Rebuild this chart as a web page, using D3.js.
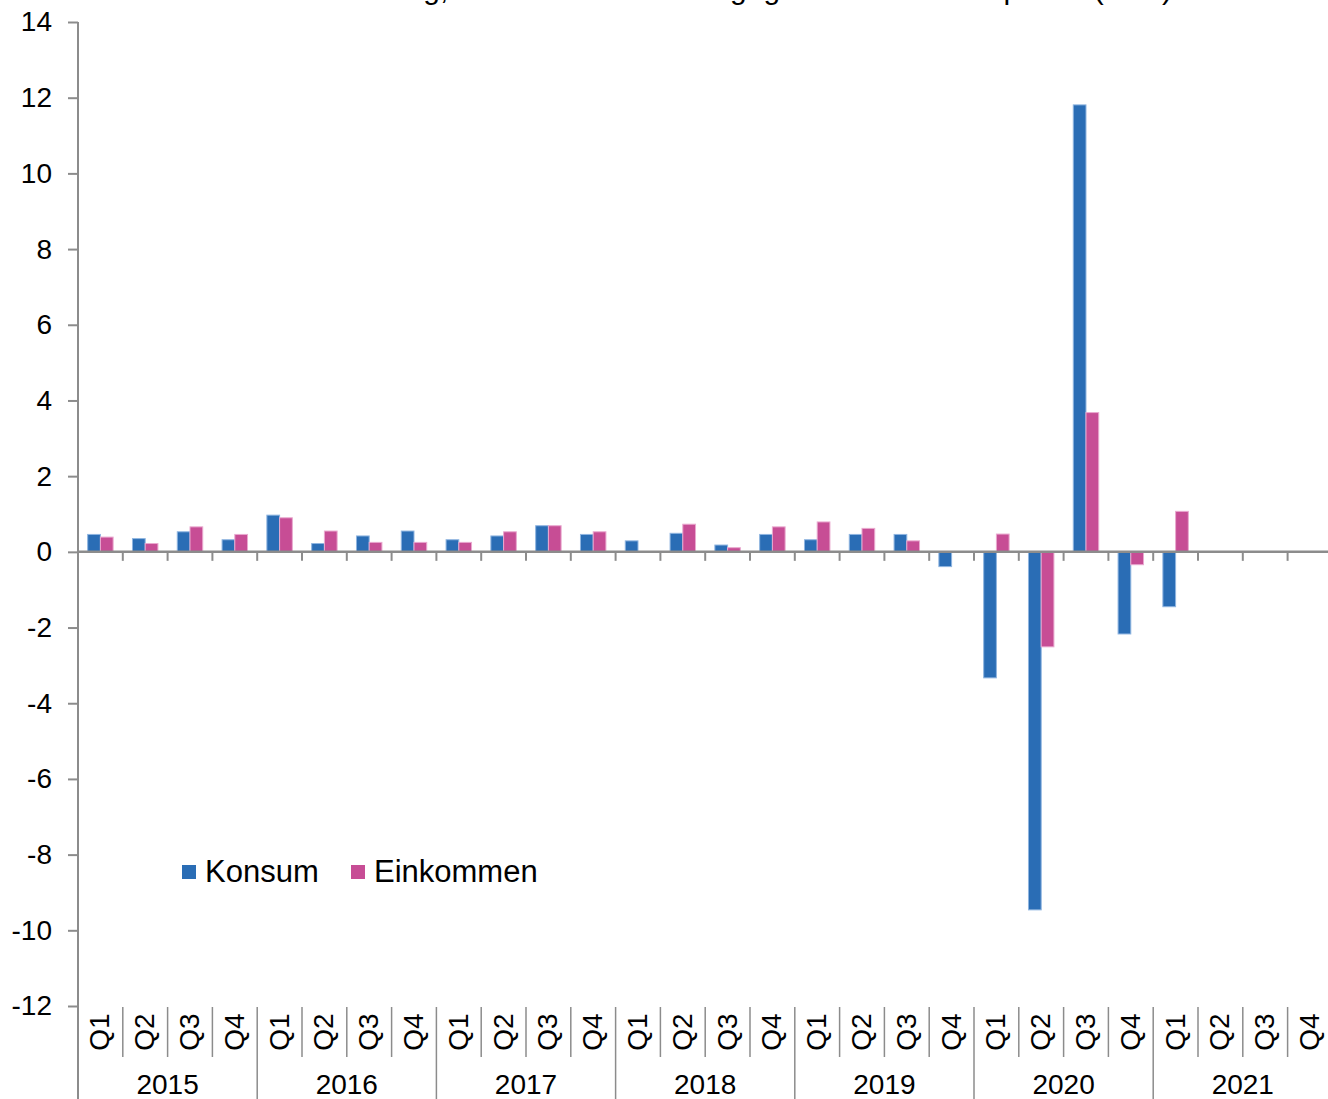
<!DOCTYPE html>
<html>
<head>
<meta charset="utf-8">
<script src="https://cdn.jsdelivr.net/npm/d3@7"></script>
<style>
  html, body { margin: 0; padding: 0; background: #fff; }
  svg { display: block; font-family: "Liberation Sans", Arial, sans-serif; }
</style>
</head>
<body>
<svg id="chart" width="1328" height="1099"></svg>
<script>
// Quarterly change, private consumption vs. income (%)
const years = ["2015", "2016", "2017", "2018", "2019", "2020", "2021"];
const quarters = ["Q1", "Q2", "Q3", "Q4"];
const seriesNames = ["Konsum", "Einkommen"];
const seriesColors = ["#2a6db5", "#c74d95"];
const konsum = [
  0.46, 0.35, 0.53, 0.32,
  0.97, 0.22, 0.42, 0.55,
  0.32, 0.42, 0.69, 0.46,
  0.29, 0.49, 0.18, 0.46,
  0.32, 0.46, 0.46, -0.39,
  -3.33, -9.46, 11.81, -2.17,
  -1.45, null, null, null
];
const einkommen = [
  0.39, 0.22, 0.66, 0.46,
  0.90, 0.55, 0.25, 0.25,
  0.25, 0.53, 0.69, 0.53,
  0.00, 0.73, 0.11, 0.66,
  0.79, 0.62, 0.29, 0.00,
  0.47, -2.51, 3.68, -0.34,
  1.07, null, null, null
];
const yTicks = [14, 12, 10, 8, 6, 4, 2, 0, -2, -4, -6, -8, -10, -12];
const titleText = "Privater Konsum und Einkommen: Entwicklung, Zu- bzw. Abnahmen gegenüber dem Vorquartal (in %)";

const svg = d3.select("#chart");
const axisColor = "#8c8c8c";

const periods = [];
years.forEach(y => quarters.forEach(q => periods.push(y + "-" + q)));

const left = 78, step = 44.8;
const x = d3.scaleBand().domain(periods).range([left, left + step * periods.length]).padding(0);
const xs = d3.scaleBand().domain(seriesNames).range([0, x.bandwidth()]).paddingInner(0).paddingOuter(0.76);
const y = d3.scaleLinear().domain([-12, 14]).range([1006, 22]);

// Title (sits above the top edge of the page)
svg.append("text")
  .attr("x", 1172).attr("y", -1)
  .attr("text-anchor", "end")
  .attr("font-size", 30)
  .attr("fill", "#000")
  .text(titleText);

// Bars
const rows = periods.map((p, i) => ({ p, values: [konsum[i], einkommen[i]] }));
const groups = svg.append("g").selectAll("g").data(rows).join("g")
  .attr("transform", d => `translate(${x(d.p)},0)`);
groups.selectAll("rect")
  .data(d => d.values.map((v, k) => ({ v, k })).filter(e => e.v !== null && e.v !== 0))
  .join("rect")
  .attr("x", e => xs(seriesNames[e.k]))
  .attr("width", xs.bandwidth())
  .attr("y", e => y(Math.max(0, e.v)))
  .attr("height", e => Math.abs(y(e.v) - y(0)))
  .attr("fill", e => seriesColors[e.k])
  .attr("stroke", e => e.k === 0 ? "#8fb5e0" : "#e9a9cf")
  .attr("stroke-width", 1);

// Y axis
const yAxis = d3.axisLeft(y).tickValues(yTicks).tickSize(10).tickPadding(16).tickFormat(d => String(d));
const gy = svg.append("g").attr("transform", `translate(${left},0)`).call(yAxis);
gy.select(".domain").remove();
gy.selectAll(".tick line").attr("stroke", axisColor).attr("stroke-width", 2);
gy.selectAll(".tick text").attr("font-size", 28).attr("fill", "#000")
  .attr("font-family", "'Liberation Sans', Arial, sans-serif");
svg.append("line").attr("x1", left).attr("x2", left).attr("y1", y(14)).attr("y2", 1099)
  .attr("stroke", axisColor).attr("stroke-width", 2);

// Zero line with boundary ticks
svg.append("line").attr("x1", left).attr("x2", 1328).attr("y1", y(0)).attr("y2", y(0))
  .attr("stroke", axisColor).attr("stroke-width", 2.5);
svg.append("g").selectAll("line").data(periods).join("line")
  .attr("x1", d => x(d) + step).attr("x2", d => x(d) + step)
  .attr("y1", y(0)).attr("y2", y(0) + 9)
  .attr("stroke", axisColor).attr("stroke-width", 2);

// Category separators below the plot
const sepTop = 1007;
svg.append("g").selectAll("line").data(periods.slice(1)).join("line")
  .attr("x1", d => x(d)).attr("x2", d => x(d))
  .attr("y1", sepTop)
  .attr("y2", d => d.endsWith("Q1") ? 1099 : 1057)
  .attr("stroke", axisColor).attr("stroke-width", 1.5);

// Quarter labels
svg.append("g").selectAll("text").data(periods).join("text")
  .attr("transform", d => `translate(${x(d) + step / 2 + 9},1032) rotate(-90)`)
  .attr("text-anchor", "middle")
  .attr("font-size", 28)
  .attr("fill", "#000")
  .text(d => d.split("-")[1]);

// Year labels
svg.append("g").selectAll("text").data(years).join("text")
  .attr("x", d => x(d + "-Q1") + step * 2)
  .attr("y", 1094)
  .attr("text-anchor", "middle")
  .attr("font-size", 28)
  .attr("fill", "#000")
  .text(d => d);

// Legend
const legend = svg.append("g").attr("transform", "translate(182,865)");
const legendX = [0, 169];
seriesNames.forEach((name, k) => {
  legend.append("rect").attr("x", legendX[k]).attr("y", 0).attr("width", 14).attr("height", 14)
    .attr("fill", seriesColors[k]);
  legend.append("text").attr("x", legendX[k] + 23).attr("y", 17)
    .attr("font-size", 31).attr("fill", "#000").text(name);
});
</script>
</body>
</html>
